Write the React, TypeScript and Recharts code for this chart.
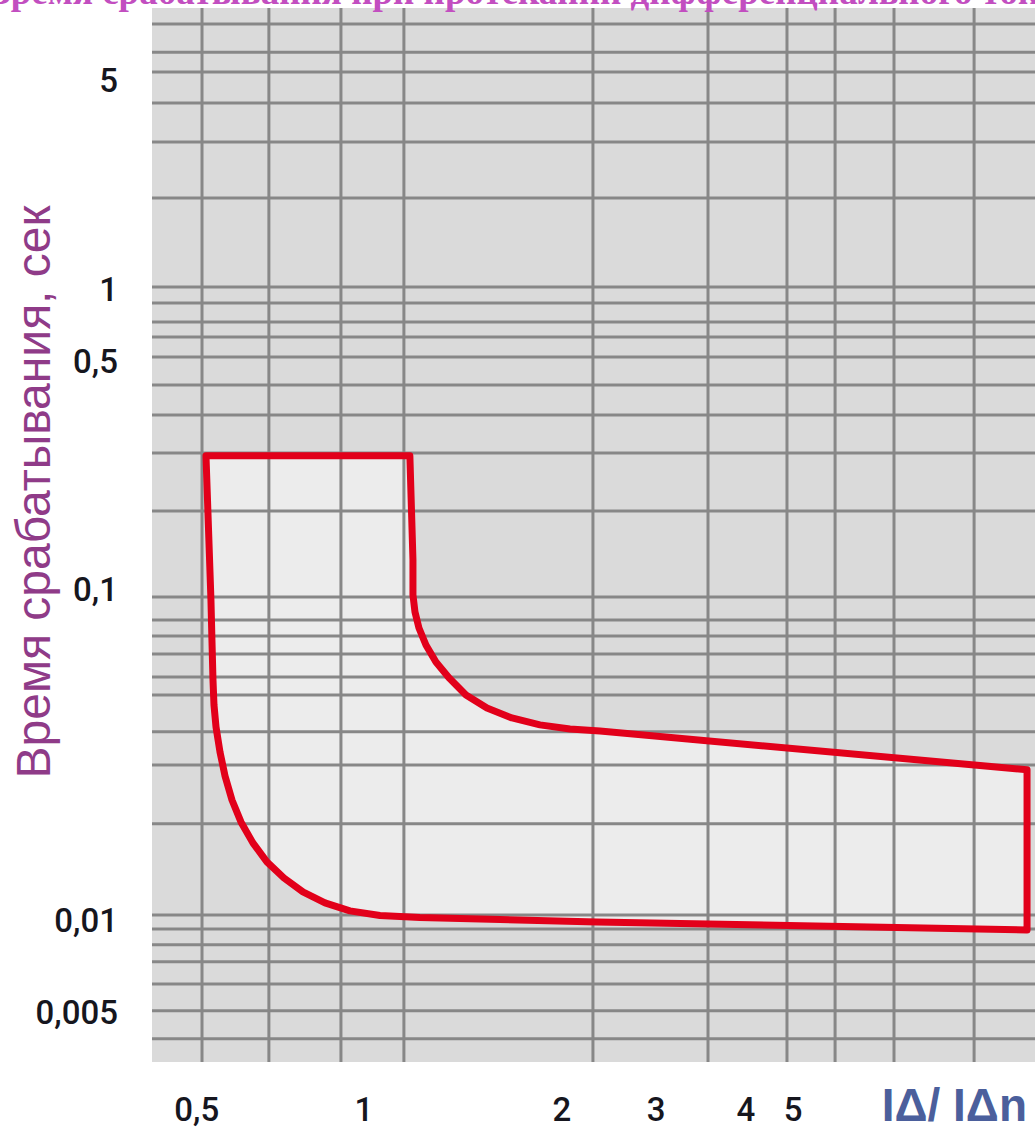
import React from "react";
import { ScatterChart, Scatter, XAxis, YAxis, CartesianGrid, ReferenceLine, Polygon } from "recharts";

const W = 1035;
const H = 1133;

// both axes are logarithmic
const xDomain = [0.4, 10];
const yDomain = [0.0034, 7.74];

// printed labels sit a bit off the grid in the original, positions read from it
const xTickAt = [0.471, 0.866, 1.783, 2.512, 3.486, 4.139];
const xTickLabels = ["0,5", "1", "2", "3", "4", "5"];
const yTickAt = [0.00488, 0.00964, 0.109, 0.581, 0.985, 4.56];
const yTickLabels = ["0,005", "0,01", "0,1", "0,5", "1", "5"];

// grid lines as drawn
const gridX = [0.48, 0.6125, 0.7965, 1.002, 1.996, 3.036, 4.049, 4.825, 5.981, 8.009];
const gridY = [
  6.88, 5.6, 4.84, 3.855, 2.896, 1.92, 1, 0.889, 0.774, 0.693, 0.598, 0.4874, 0.3913, 0.296, 0.1935,
  0.103, 0.087, 0.0774, 0.0678, 0.0573, 0.0502, 0.0383, 0.03, 0.0195, 0.01, 0.00902, 0.00803,
  0.00709, 0.00603, 0.00495, 0.00403
];

// tripping zone outline, IΔ/IΔn vs seconds (clockwise from top-left)
const zoneX = [
  0.487, 1.024, 1.0356, 1.0356, 1.0432, 1.0585, 1.0858, 1.1261, 1.1808, 1.2564, 1.3563, 1.4855,
  1.6453, 1.8356, 2.0477, 9.714, 9.714, 2.026, 1.0624, 0.9183, 0.823, 0.7515, 0.6934, 0.6471,
  0.6081, 0.5778, 0.5532, 0.5354, 0.522, 0.5125, 0.5051, 0.5014, 0.4996, 0.4977, 0.4959
];
const zoneY = [
  0.29, 0.29, 0.1351, 0.1045, 0.0923, 0.082, 0.0724, 0.0639, 0.0569, 0.0502, 0.0456, 0.0424,
  0.0403, 0.0391, 0.0385, 0.029, 0.00896, 0.0095, 0.00982, 0.00996, 0.0103, 0.01092, 0.01184,
  0.01311, 0.01475, 0.01696, 0.01978, 0.02323, 0.02771, 0.03304, 0.0397, 0.04665, 0.056, 0.0751,
  0.1007
];
const zone = zoneX.map((x, i) => ({ x, y: zoneY[i] }));

const margin = { top: 8, right: 0, bottom: 0, left: 0 };
const tickStyle = { fontFamily: "Roboto, sans-serif", fontSize: 33, fontWeight: 500, fill: "#16161e" };
const layer: React.CSSProperties = { position: "absolute", left: 0, top: 0 };

function axes(show: boolean) {
  return [
    <XAxis
      key="x"
      dataKey="x"
      type="number"
      scale="log"
      domain={xDomain}
      allowDataOverflow
      ticks={xTickAt}
      interval={0}
      tickFormatter={(v: number) => xTickLabels[xTickAt.indexOf(v)]}
      height={71}
      axisLine={false}
      tickLine={false}
      tickSize={0}
      tickMargin={36}
      tick={show ? tickStyle : false}
      label={
        show
          ? {
              value: "IΔ/ IΔn",
              position: "insideRight",
              offset: 8,
              dy: 7,
              fill: "#4b5f9c",
              fontSize: 46,
              fontWeight: 700,
              fontFamily: "'Liberation Sans', Arial, sans-serif"
            }
          : undefined
      }
    />,
    <YAxis
      key="y"
      dataKey="y"
      type="number"
      scale="log"
      domain={yDomain}
      allowDataOverflow
      ticks={yTickAt}
      interval={0}
      tickFormatter={(v: number) => yTickLabels[yTickAt.indexOf(v)]}
      width={152}
      axisLine={false}
      tickLine={false}
      tickSize={0}
      tickMargin={34}
      tick={show ? tickStyle : false}
    />
  ];
}

const noDot = () => <g />;

export default function App() {
  return (
    <div style={{ position: "absolute", left: 0, top: 0, width: W, height: H, background: "#fff" }}>
      {/* background + light zone fill */}
      <div style={layer}>
        <ScatterChart width={W} height={H} margin={margin}>
          <CartesianGrid fill="#dadada" horizontal={false} vertical={false} />
          {axes(true)}
          <Scatter
            data={zone}
            shape={noDot}
            isAnimationActive={false}
            line={(p: any) => <Polygon points={p.points} fill="#ececec" stroke="none" />}
          />
        </ScatterChart>
      </div>
      {/* grid */}
      <div style={layer}>
        <ScatterChart width={W} height={H} margin={margin}>
          {axes(false)}
          <Scatter data={zone} shape={noDot} isAnimationActive={false} />
          {gridX.map((v) => (
            <ReferenceLine key={"gx" + v} x={v} stroke="#878787" strokeWidth={3} />
          ))}
          {gridY.map((v) => (
            <ReferenceLine key={"gy" + v} y={v} stroke="#878787" strokeWidth={3} />
          ))}
        </ScatterChart>
      </div>
      {/* red outline */}
      <div style={layer}>
        <ScatterChart width={W} height={H} margin={margin}>
          {axes(false)}
          <Scatter
            data={zone}
            shape={noDot}
            isAnimationActive={false}
            line={(p: any) => (
              <Polygon
                points={p.points}
                fill="none"
                stroke="#e2001a"
                strokeWidth={7}
                strokeLinejoin="round"
              />
            )}
          />
        </ScatterChart>
      </div>
      <svg width={W} height={H} style={{ ...layer, pointerEvents: "none" }}>
        <text
          x={-14}
          y={4}
          fontFamily="'Liberation Serif', 'Times New Roman', serif"
          fontWeight="bold"
          fontSize={37}
          fill="#c24ec0"
        >
          Время срабатывания при протекании дифференциального тока
        </text>
        <text
          transform="translate(50,492) rotate(-90)"
          textAnchor="middle"
          fontFamily="'Liberation Sans', Arial, sans-serif"
          fontSize={48}
          fill="#8f3b88"
        >
          Время срабатывания, сек
        </text>
      </svg>
    </div>
  );
}
